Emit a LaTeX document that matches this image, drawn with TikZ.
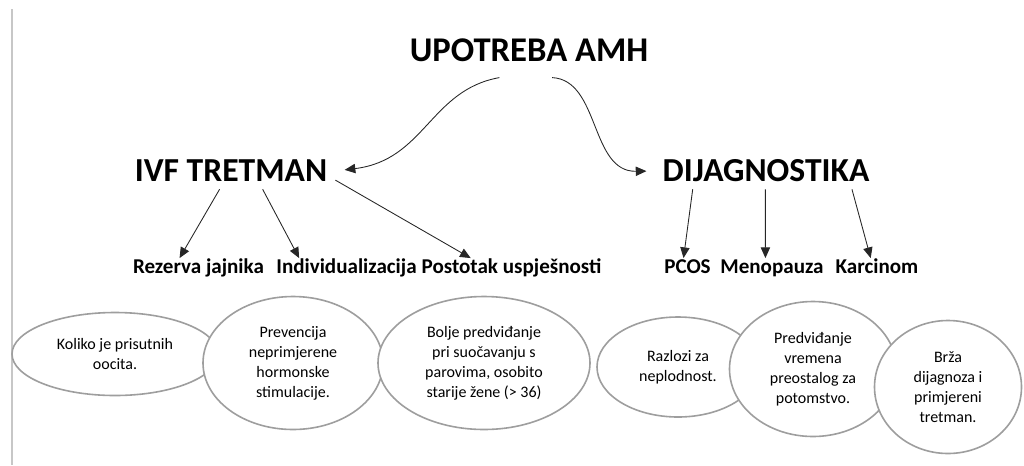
\documentclass[tikz,border=0pt]{standalone}
\usepackage{fontspec}
\setmainfont{Carlito}
\usetikzlibrary{arrows.meta,shapes.geometric}

\tikzset{
  tip/.style={-{Triangle[length=8pt,width=7pt]},black!85,line width=0.65pt},
  title/.style={font=\bfseries\fontsize{26}{30}\selectfont,text height=17pt,text depth=0pt,inner sep=12pt},
  head/.style={font=\bfseries\fontsize{25.2}{29}\selectfont,text height=15pt,text depth=0pt,inner sep=6pt},
  sub/.style={font=\bfseries\fontsize{15.8}{18}\selectfont,text height=10pt,text depth=3pt,inner sep=1.5pt},
  bubble/.style={ellipse,draw=black!38,line width=1.2pt,fill=white,align=center,inner sep=0pt,
    font=\fontsize{12}{15}\selectfont}
}

\begin{document}
\begin{tikzpicture}[x=0.75pt,y=-0.75pt]
  \useasboundingbox (0,0) rectangle (1024,465);
  \draw[black!22,line width=0.8pt] (12,9) -- (12,465);

  %% headings
  \node (TOP) at (529,50) [title] {UPOTREBA AMH};
  \node (IVF) at (231,171) [head] {IVF TRETMAN};
  \node (DIJ) at (766,171) [head] {DIJAGNOSTIKA};

  \draw[tip,shorten >=7pt] (TOP.-137) .. controls (430,90) and (425,160) .. (IVF.east);
  \draw[tip,shorten >=6pt] (TOP.-50) .. controls (600,80) and (590,172) .. (DIJ.west);

  %% uses
  \node (REZ) at (198.5,269) [sub] {Rezerva jajnika};
  \node (IND) at (346.5,269) [sub] {Individualizacija};
  \node (POS) at (511.5,269) [sub] {Postotak uspješnosti};
  \node (PCOS) at (687.5,269) [sub] {PCOS};
  \node (MEN) at (772,269) [sub] {Menopauza};
  \node (KAR) at (877,269) [sub] {Karcinom};

  \draw[tip] (IVF.-122.6) -- (REZ.150);
  \draw[tip] (IVF.-30.5) -- (IND.167);
  \draw[tip] (IVF.-5.9) -- (POS.165);
  \draw[tip] (DIJ.-166) -- (PCOS.110);
  \draw[tip] (DIJ.-92) -- (MEN.121);
  \draw[tip] (DIJ.-12) -- (KAR.120);

  %% bubbles
  \node (B1) at (115,354) [bubble,minimum width=154.5pt,minimum height=62.25pt] {Koliko je prisutnih\\oocita.};
  \node (B2) at (293,363) [bubble,minimum width=135pt,minimum height=99.75pt] {Prevencija\\neprimjerene\\hormonske\\stimulacije.};
  \node (B3) at (484,363) [bubble,minimum width=159pt,minimum height=99.75pt] {Bolje predviđanje\\pri suočavanju s\\parovima, osobito\\starije žene (> 36)};
  \node (B4) at (678,367) [bubble,minimum width=121.5pt,minimum height=75pt] {Razlozi za\\neplodnost.};
  \node (B5) at (813,369) [bubble,minimum width=125.25pt,minimum height=101.25pt] {Predviđanje\\vremena\\preostalog za\\potomstvo.};
  \node (B6) at (948,387) [bubble,minimum width=110.25pt,minimum height=99.75pt] {Brža\\dijagnoza i\\primjereni\\tretman.};
\end{tikzpicture}
\end{document}
